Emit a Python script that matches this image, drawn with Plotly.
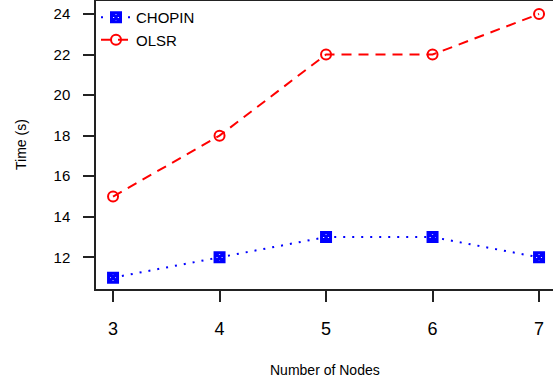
import plotly.graph_objects as go

nodes = [3, 4, 5, 6, 7]
chopin = [11, 12, 13, 13, 12]
olsr = [15, 18, 22, 22, 24]
x_ticks = [3, 4, 5, 6, 7]
y_ticks = [12, 14, 16, 18, 20, 22, 24]

FONT = "Liberation Sans, Arial, Helvetica, sans-serif"

fig = go.Figure()
fig.add_trace(go.Scatter(
    x=nodes, y=chopin, name="CHOPIN", mode="lines+markers",
    line=dict(color="#0000FF", width=2, dash="2px,7px"),
    marker=dict(symbol="square-x-open", size=9, color="#0000FF",
                line=dict(color="#0000FF", width=3)),
))
fig.add_trace(go.Scatter(
    x=nodes, y=olsr, name="OLSR", mode="lines+markers",
    line=dict(color="#FF0000", width=2, dash="10px,7px"),
    marker=dict(symbol="circle-open", size=10, color="#FF0000",
                line=dict(color="#FF0000", width=2)),
))

fig.update_layout(
    width=553, height=379,
    margin=dict(l=96, r=0, t=1, b=90, autoexpand=False),
    paper_bgcolor="white", plot_bgcolor="white",
    font=dict(family=FONT, color="black"),
    showlegend=True,
    legend=dict(x=0.0, y=1.0, xanchor="left", yanchor="top",
                bgcolor="rgba(0,0,0,0)", font=dict(size=15, family=FONT),
                itemwidth=30, tracegroupgap=0),
    xaxis=dict(range=[2.84, 7.131], tickvals=x_ticks, ticktext=[str(v) for v in x_ticks],
               showgrid=False, zeroline=False, showline=True, linecolor="#222",
               linewidth=1.5, mirror=True, ticks="outside", ticklen=11, tickwidth=1.5,
               tickcolor="#222", tickfont=dict(size=18), ticklabelstandoff=12,
               automargin=False),
    yaxis=dict(range=[10.44, 24.64], tickvals=y_ticks, ticktext=[str(v) for v in y_ticks],
               showgrid=False, zeroline=False, showline=True, linecolor="#222",
               linewidth=1.5, ticks="outside", ticklen=11, tickwidth=1.5,
               tickcolor="#222", tickfont=dict(size=15), ticklabelstandoff=10,
               automargin=False),
    annotations=[
        dict(text="Number of Nodes", xref="paper", yref="paper", x=0.5, y=0,
             yshift=-81, xanchor="center", yanchor="middle", showarrow=False,
             font=dict(size=14)),
        dict(text="Time (s)", xref="paper", yref="paper", x=0, y=0.5,
             xshift=-75, xanchor="center", yanchor="middle", textangle=-90,
             showarrow=False, font=dict(size=14)),
    ],
)

fig.write_html("out.html", config={"displayModeBar": False},
               post_script="document.body.style.margin='0';document.body.style.overflow='hidden';")
